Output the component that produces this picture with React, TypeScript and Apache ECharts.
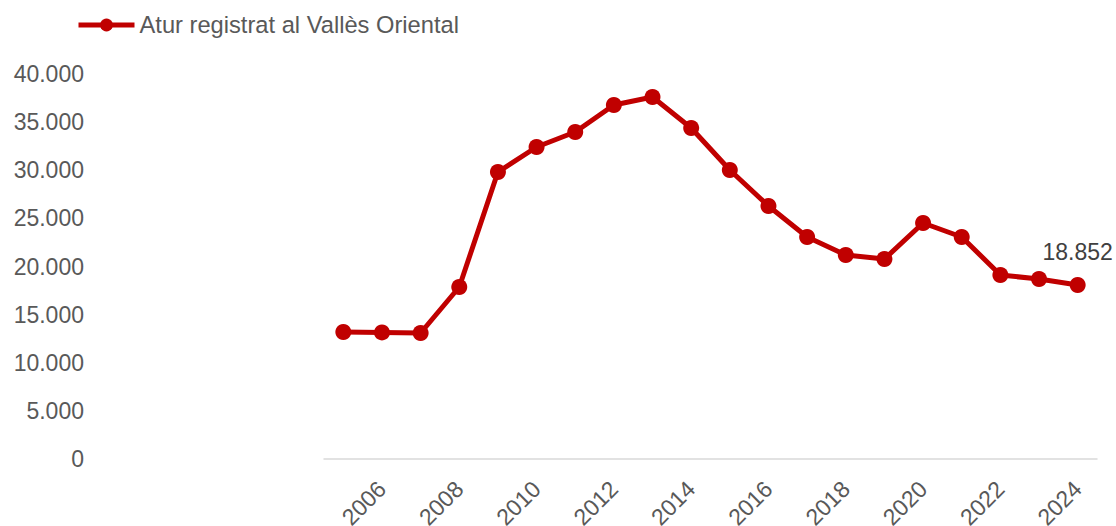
import React, { useEffect, useRef } from "react";
import * as echarts from "echarts";

const years = ["2005","2006","2007","2008","2009","2010","2011","2012","2013","2014","2015","2016","2017","2018","2019","2020","2021","2022","2023","2024"];
const atur = [13195,13150,13090,17870,29818,32416,33974,36779,37610,34390,30026,26286,23065,21195,20779,24519,23065,19117,18701,18078];
const seriesName = "Atur registrat al Vallès Oriental";
const lastLabel = "18.852";
const yTicks = { min: 0, max: 40000, interval: 5000 };

const fmt = (v: number) => v.toLocaleString("de-DE");

export default function App() {
  const ref = useRef<HTMLDivElement>(null);
  useEffect(() => {
    if (!ref.current) return;
    const chart = echarts.init(ref.current, null, { renderer: "svg" });
    const font = "'Liberation Sans', Arial, sans-serif";
    const red = "#C00000";
    chart.setOption({
      animation: false,
      textStyle: { fontFamily: font },
      legend: {
        left: 76,
        top: 13,
        padding: 0,
        itemWidth: 56,
        itemHeight: 16,
        itemGap: 10,
        lineStyle: { width: 5, color: red },
        itemStyle: { color: red },
        textStyle: { fontSize: 23.7, color: "#595959", fontFamily: font },
        data: [seriesName],
      },
      grid: { left: 324, right: 19, top: 74, bottom: 67, containLabel: false, outerBoundsMode: "none" },
      xAxis: {
        type: "category",
        data: years,
        boundaryGap: true,
        axisLine: { lineStyle: { color: "#d9d9d9", width: 1.5 } },
        axisTick: { show: false },
        axisLabel: {
          rotate: 45,
          interval: (i: number) => i % 2 === 1,
          fontSize: 23,
          color: "#595959",
          margin: 26,
          fontFamily: font,
        },
      },
      yAxis: {
        type: "value",
        min: yTicks.min,
        max: yTicks.max,
        interval: yTicks.interval,
        splitLine: { show: false },
        axisLine: { show: false },
        axisTick: { show: false },
        axisLabel: {
          fontSize: 23,
          color: "#595959",
          margin: 240,
          fontFamily: font,
          formatter: (v: number) => fmt(v),
        },
      },
      series: [
        {
          name: seriesName,
          type: "line",
          data: atur.map((v, i) =>
            i === atur.length - 1
              ? {
                  value: v,
                  label: {
                    show: true,
                    position: "top",
                    distance: 13,
                    fontSize: 23,
                    color: "#404040",
                    fontFamily: font,
                    formatter: () => lastLabel,
                  },
                }
              : v
          ),
          symbol: "circle",
          symbolSize: 16,
          lineStyle: { color: red, width: 5 },
          itemStyle: { color: red },
        },
      ],
    });
    return () => chart.dispose();
  }, []);
  return (
    <div
      ref={ref}
      style={{ position: "fixed", left: 0, top: 0, width: 1116, height: 526, background: "#fff" }}
    />
  );
}
